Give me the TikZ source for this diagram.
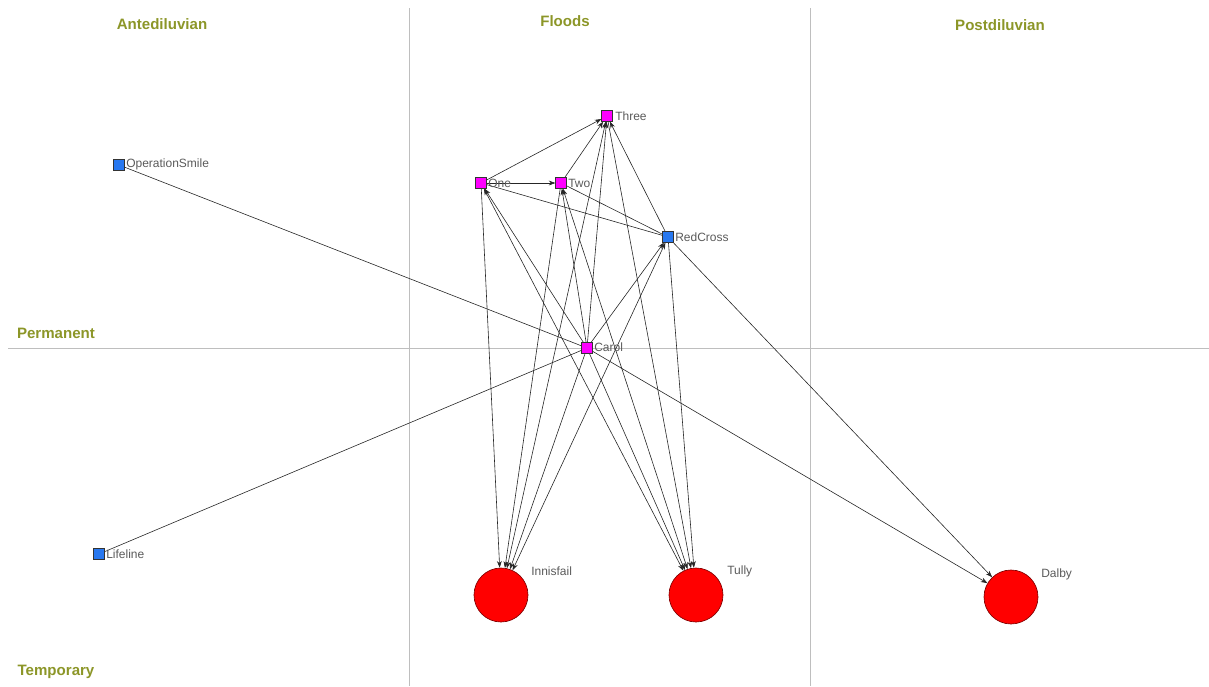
\documentclass[tikz,border=0pt]{standalone}
\usepackage{fontspec}
\setmainfont{Liberation Sans}
\usetikzlibrary{arrows.meta,backgrounds}
\definecolor{olivelab}{RGB}{140,150,40}
\definecolor{gridgray}{RGB}{190,190,190}
\definecolor{labgray}{RGB}{90,90,90}
\definecolor{mag}{RGB}{255,0,255}
\definecolor{bluen}{RGB}{40,120,240}
\definecolor{redn}{RGB}{255,0,0}
\begin{document}
\begin{tikzpicture}[x=0.75pt,y=-0.75pt,
  axlab/.style={font=\fontsize{11.3}{13}\selectfont\bfseries, text=olivelab, inner sep=0pt},
  sq/.style={draw=black!80, line width=0.4pt, minimum size=8pt, inner sep=0pt, rectangle},
  magsq/.style={sq, fill=mag},
  bluesq/.style={sq, fill=bluen},
  bigc/.style={circle, draw=red!50!black, line width=0.5pt, fill=redn, minimum size=40.5pt, inner sep=0pt},
  nlab/.style={font=\fontsize{9}{10}\selectfont, text=labgray, anchor=west, inner sep=0pt},
  tie/.style={line width=0.45pt, draw=black!85},
  arr/.style={tie, -{Stealth[length=5pt,width=3.6pt]}},
  darr/.style={tie, {Stealth[length=5pt,width=3.6pt]}-{Stealth[length=5pt,width=3.6pt]}},
  gridl/.style={draw=gridgray, line width=0.5pt}]
\useasboundingbox (0,0) rectangle (1209,686);
% axis labels
\node[axlab] (ante) at (162,24) {Antediluvian};
\node[axlab] (flood) at (565,21) {Floods};
\node[axlab] (post) at (1000,25) {Postdiluvian};
\node[axlab] (perm) at (56,333) {Permanent};
\node[axlab] (temp) at (56,672) {Temporary};
% nodes
\node[bluesq] (os) at (119,165) {};
\node[bluesq] (lf) at (99,554) {};
\node[magsq] (one) at (481,183) {};
\node[magsq] (two) at (561,183) {};
\node[magsq] (three) at (607,116) {};
\node[bluesq] (rc) at (668,237) {};
\node[magsq] (carol) at (587,348) {};
\node[bigc] (inn) at (501,595) {};
\node[bigc] (tul) at (696,595) {};
\node[bigc] (dal) at (1011,597) {};
% labels
\node[nlab] (osl) at (126,164) {OperationSmile};
\node[nlab] (lfl) at (106,554) {Lifeline};
\node[nlab] (onel) at (488,183) {One};
\node[nlab] (twol) at (568,183) {Two};
\node[nlab] (threel) at (615,116) {Three};
\node[nlab] (rcl) at (675,237) {RedCross};
\node[nlab] (carl) at (594,347) {Carol};
\node[nlab] (innl) at (531,571) {Innisfail};
\node[nlab] (tull) at (727,571) {Tully};
\node[nlab] (dall) at (1041,574) {Dalby};
\begin{scope}[on background layer]
% grid
\coordinate (v1t) at (409,8); \coordinate (v1b) at (409,686);
\coordinate (v2t) at (810,8); \coordinate (v2b) at (810,686);
\coordinate (hl) at (8,348); \coordinate (hr) at (1209,348);
\draw[gridl] (v1t) -- (v1b);
\draw[gridl] (v2t) -- (v2b);
\draw[gridl] (hl) -- (hr);
% ties
\draw[tie] (os) -- (carol);
\draw[tie] (lf) -- (carol);
\draw[arr] (one) -- (two);
\draw[arr] (one) -- (three);
\draw[arr] (two) -- (three);
\draw[tie] (one) -- (rc);
\draw[tie] (two) -- (rc);
\draw[arr] (rc) -- (three);
\draw[arr] (one) -- (inn);
\draw[darr] (one) -- (tul);
\draw[arr] (carol) -- (one);
\draw[arr] (two) -- (inn);
\draw[darr] (two) -- (tul);
\draw[arr] (carol) -- (two);
\draw[darr] (three) -- (inn);
\draw[arr] (three) -- (tul);
\draw[arr] (carol) -- (three);
\draw[darr] (rc) -- (inn);
\draw[arr] (rc) -- (tul);
\draw[arr] (rc) -- (dal);
\draw[arr] (carol) -- (rc);
\draw[arr] (carol) -- (inn);
\draw[arr] (carol) -- (tul);
\draw[arr] (carol) -- (dal);
\end{scope}
\end{tikzpicture}
\end{document}
